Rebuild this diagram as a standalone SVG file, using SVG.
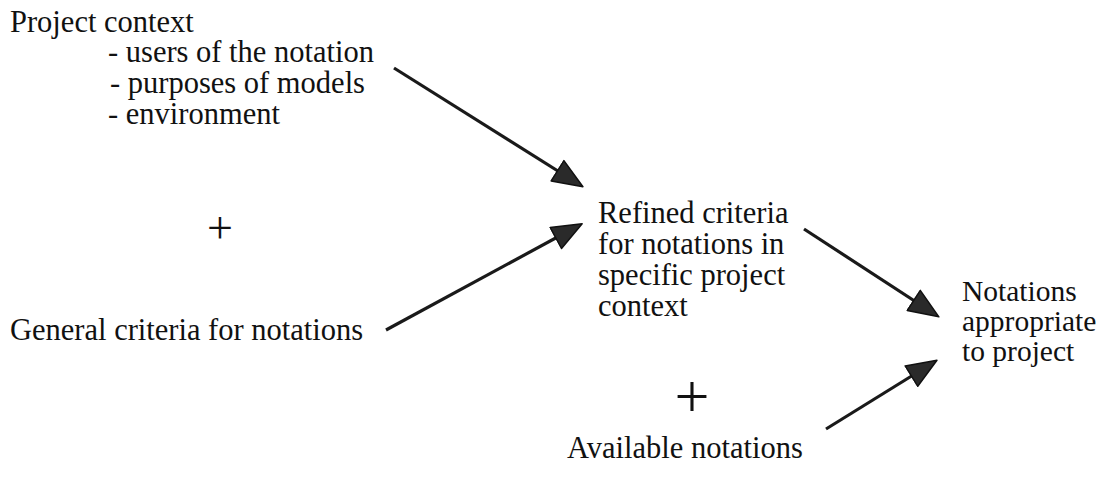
<svg xmlns="http://www.w3.org/2000/svg" width="1104" height="479" viewBox="0 0 1104 479">
<style>
.t { font-size: 30.5px; fill: #111; }
.n { font-size: 29.5px; }
.plus { font-size: 46px; }
.plus2 { font-size: 62px; }
.conn { stroke: #1a1a1a; stroke-width: 3.2; fill: none; marker-end: url(#ah); }
</style>
<defs>
<marker id="ah" markerUnits="userSpaceOnUse" markerWidth="40" markerHeight="30" refX="24" refY="13" orient="auto">
<path d="M1,1 L31,13 L1,25 Z" fill="#2a2a2a" stroke="#111" stroke-width="1.5" stroke-linejoin="round"/>
</marker>
</defs>
<rect width="1104" height="479" fill="#fff"/>
<g font-family="'Liberation Serif', 'Times New Roman', Times, serif" class="t">
<g id="project-context">
<text x="10" y="32">Project context</text>
<text x="108" y="62">- users of the notation</text>
<text x="110" y="93">- purposes of models</text>
<text x="108" y="124">- environment</text>
</g>
<g id="plus-1"><text class="plus" x="220" y="243" text-anchor="middle">+</text></g>
<g id="general-criteria"><text x="10" y="340">General criteria for notations</text></g>
<g id="refined-criteria">
<text x="598" y="223">Refined criteria</text>
<text x="598" y="254">for notations in</text>
<text x="598" y="285">specific project</text>
<text x="598" y="316">context</text>
</g>
<g id="notations-appropriate" class="n">
<text x="962" y="301">Notations</text>
<text x="962" y="331">appropriate</text>
<text x="962" y="361">to project</text>
</g>
<g id="plus-2"><text class="plus2" x="692" y="417" text-anchor="middle">+</text></g>
<g id="available-notations"><text x="567" y="458">Available notations</text></g>
</g>
<g id="connectors">
<line class="conn" x1="394" y1="68" x2="577" y2="183"/>
<line class="conn" x1="386" y1="330" x2="576" y2="227"/>
<line class="conn" x1="804" y1="229" x2="933" y2="313"/>
<line class="conn" x1="826" y1="429" x2="931" y2="364"/>
</g>
</svg>
